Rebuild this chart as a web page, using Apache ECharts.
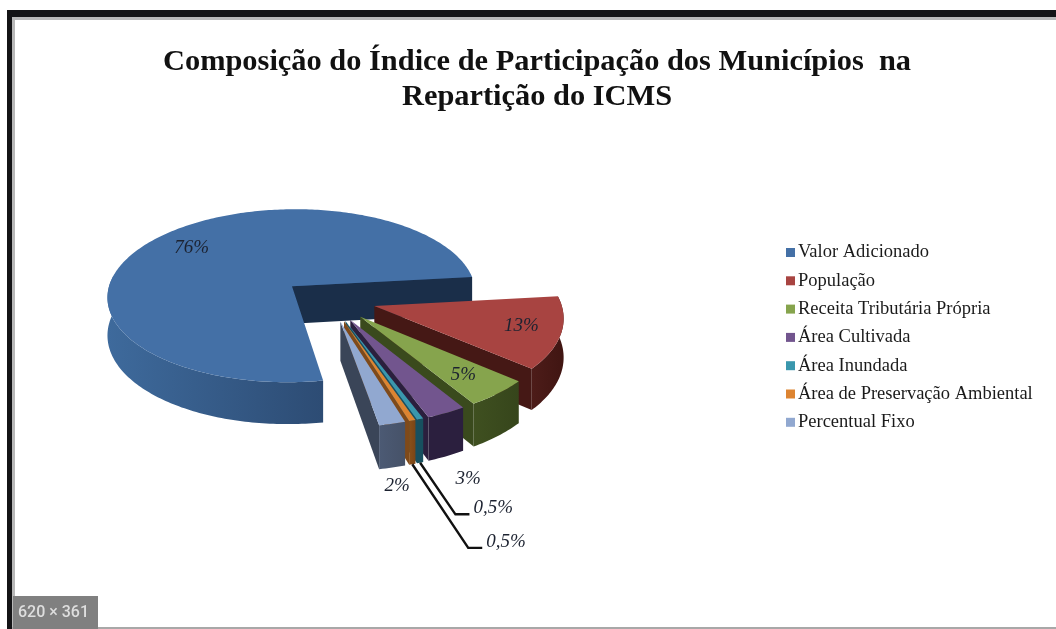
<!DOCTYPE html>
<html>
<head>
<meta charset="utf-8">
<style>
  html, body { margin: 0; padding: 0; background: #fff; }
  #main { width: 1056px; height: 629px; filter: blur(0.7px); }
</style>
<script src="https://cdn.jsdelivr.net/npm/echarts@6/dist/echarts.min.js"></script>
</head>
<body>
<div id="main"></div>
<script>
// valores
const categories = ['Valor Adicionado', 'População', 'Receita Tributária Própria', 'Área Cultivada', 'Área Inundada', 'Área de Preservação Ambiental', 'Percentual Fixo']
const shares = [76, 13, 5, 3, 0.5, 0.5, 2]
const shareLabels = ['76%', '13%', '5%', '3%', '0,5%', '0,5%', '2%']

const topColors = ['#4470a6', '#a84441', '#86a44d', '#72558e', '#3a97ad', '#dd8431', '#91a8d0']
const faceColors = ['#1a2e49', '#451815', '#3a4a1d', '#2b1f3e', '#17505f', '#7f4a1a', '#3a4558']
const sideColors = [['#3e6a9c', '#213758'], ['#4d1c19', '#401512'], ['#3f5020', '#36451b'], ['#2b1f3e', '#2b1f3e'], ['#17505f', '#17505f'], ['#8a5018', '#7a4516'], ['#4c5a74', '#465268']]

// onde fica cada rotulo: raio relativo, desvio de angulo e linha de chamada
const labelPlace = [
  { r: 0.75, da: 1.8 },
  { r: 0.79, da: -1 },
  { r: 0.77, da: 0.5 },
  { r: 1.52, da: 7 },
  { r: 1.74, da: 4.9, leader: true },
  { r: 1.97, da: 3.6, leader: true },
  { r: 1.49, da: 4.4 }
]

// perspectiva simples da pizza 3D
const cx = 329
const cy = 299.5
const R = 186
const ry = 0.475
const persp = 0.11
const explode = 47
const depth = 38
const startAngle = 80

function project (gx, gy, h) {
  const s = 1 / (1 - persp * gy / R)
  return [cx + gx * s, cy + ry * gy * s + h * s]
}

function rad (a) {
  return a * Math.PI / 180
}

const total = shares.reduce((a, b) => a + b, 0)
let acc = startAngle
const sliceAngles = shares.map(v => {
  const a0 = acc
  acc += v / total * 360
  return [a0, acc]
})

function renderSlice (i) {
  const a0 = sliceAngles[i][0]
  const a1 = sliceAngles[i][1]
  const mid = (a0 + a1) / 2
  const ox = explode * Math.cos(rad(mid))
  const oy = explode * Math.sin(rad(mid))
  const rim = h => {
    const pts = []
    const n = Math.max(4, Math.ceil(a1 - a0))
    for (let k = 0; k <= n; k++) {
      const a = rad(a0 + (a1 - a0) * k / n)
      pts.push(project(ox + R * Math.cos(a), oy + R * Math.sin(a), h))
    }
    return pts
  }
  const apex = project(ox, oy, 0)
  const apexLow = project(ox, oy, depth)
  const upper = rim(0)
  const lower = rim(depth)
  const last = upper[upper.length - 1]
  const lastLow = lower[lower.length - 1]

  // parte visivel da lateral: so onde o arco vem para a frente
  const frontU = []
  const frontL = []
  upper.forEach((p, k) => {
    const a = a0 + (a1 - a0) * k / (upper.length - 1)
    if (Math.sin(rad(a)) > -0.12) {
      frontU.push(p)
      frontL.unshift(lower[k])
    }
  })
  const children = []
  if (frontU.length > 1) {
    children.push({
      type: 'polygon',
      shape: { points: frontU.concat(frontL) },
      style: {
        fill: new echarts.graphic.LinearGradient(0, 0, 1, 0, [
          { offset: 0, color: sideColors[i][0] },
          { offset: 1, color: sideColors[i][1] }
        ])
      }
    })
  }
  children.push({
    type: 'polygon',
    shape: { points: [apex, last, lastLow, apexLow] },
    style: { fill: faceColors[i] }
  })
  children.push({
    type: 'polygon',
    shape: { points: [apex].concat(upper) },
    style: { fill: topColors[i] }
  })

  // rotulo de dados
  const place = labelPlace[i]
  const la = rad(mid + place.da)
  const at = project(ox + place.r * R * Math.cos(la), oy + place.r * R * Math.sin(la), 0)
  let tx = at[0]
  let align = 'center'
  if (place.leader) {
    const from = project(ox + R * Math.cos(rad(mid)), oy + R * Math.sin(rad(mid)), depth)
    children.push({
      type: 'polyline',
      shape: { points: [from, at, [at[0] + 14, at[1]]] },
      style: { stroke: '#111', lineWidth: 2.4, fill: null }
    })
    tx = at[0] + 18
    align = 'left'
  }
  children.push({
    type: 'text',
    style: {
      text: shareLabels[i],
      x: tx,
      y: place.leader ? at[1] - 6 : at[1],
      fill: '#1c2230',
      font: 'italic 19px "Liberation Serif"',
      textAlign: align,
      textVerticalAlign: 'middle'
    }
  })
  return { type: 'group', children: children }
}

const chart = echarts.init(document.getElementById('main'))
chart.setOption({
  animation: false,
  backgroundColor: '#fff',
  title: {
    text: 'Composição do Índice de Participação dos Municípios  na\nRepartição do ICMS',
    left: 532,
    top: 40,
    textAlign: 'center',
    textStyle: {
      fontFamily: 'Liberation Serif',
      fontSize: 30.4,
      fontWeight: 'bold',
      color: '#111',
      lineHeight: 35
    }
  },
  legend: {
    orient: 'vertical',
    left: 781,
    top: 237,
    icon: 'rect',
    itemWidth: 9,
    itemHeight: 9,
    itemGap: 7.3,
    data: categories,
    textStyle: {
      fontFamily: 'Liberation Serif',
      fontSize: 18.5,
      color: '#1a1a1a',
      padding: [0, 0, 0, -2],
      lineHeight: 21
    }
  },
  series: categories.map((name, i) => ({
    type: 'custom',
    name: name,
    coordinateSystem: 'none',
    itemStyle: { color: topColors[i] },
    data: [[shares[i]]],
    renderItem: () => renderSlice(i)
  })),
  // moldura e selo da captura de tela
  graphic: [
    { type: 'rect', shape: { x: 7, y: 10, width: 1049, height: 7 }, style: { fill: '#141416' } },
    { type: 'rect', shape: { x: 12, y: 17, width: 1044, height: 3 }, style: { fill: '#b8b8b8' } },
    { type: 'rect', shape: { x: 7, y: 10, width: 5, height: 619 }, style: { fill: '#141416' } },
    { type: 'rect', shape: { x: 12, y: 17, width: 3, height: 612 }, style: { fill: '#b8b8b8' } },
    { type: 'rect', shape: { x: 12, y: 627, width: 1044, height: 2 }, style: { fill: '#a8a8a8' } },
    { type: 'rect', shape: { x: 13, y: 596, width: 85, height: 33 }, style: { fill: '#808080' } },
    {
      type: 'text',
      style: { text: '620 × 361', x: 18, y: 613, fill: '#dedede', font: '500 16px Roboto', textVerticalAlign: 'middle' }
    }
  ]
})
</script>
</body>
</html>
